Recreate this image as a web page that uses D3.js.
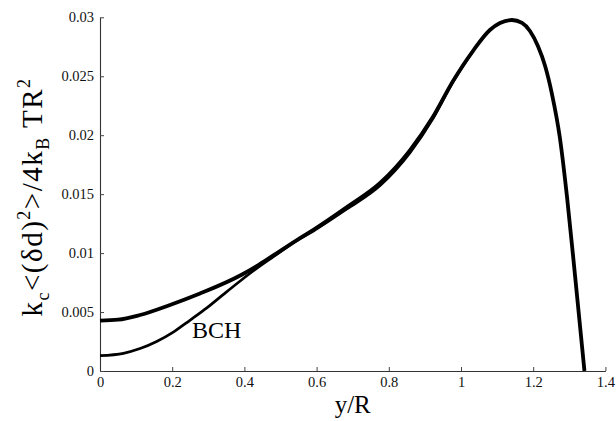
<!DOCTYPE html>
<html>
<head>
<meta charset="utf-8">
<script src="https://cdn.jsdelivr.net/npm/d3@7"></script>
<style>
  body { margin: 0; background: #fff; }
  svg { display: block; }
  svg text {
    font-family: "Liberation Serif", "Times New Roman", Tinos, "Nimbus Roman", "Nimbus Roman No9 L",
                 "DejaVu Serif", "Noto Serif", FreeSerif, Times, serif;
  }
</style>
</head>
<body>
<svg id="chart" width="616" height="421"></svg>
<script>
// Axis ticks
const xTicks = [0, 0.2, 0.4, 0.6, 0.8, 1, 1.2, 1.4];
const xTickLabels = ["0", "0.2", "0.4", "0.6", "0.8", "1", "1.2", "1.4"];
const yTicks = [0, 0.005, 0.01, 0.015, 0.02, 0.025, 0.03];
const yTickLabels = ["0", "0.005", "0.01", "0.015", "0.02", "0.025", "0.03"];

// Full fluctuation curve
const fullX = [0, 0.05, 0.111, 0.194, 0.277, 0.391, 0.434, 0.475, 0.554, 0.59, 0.684, 0.776,
               0.859, 0.922, 0.978, 1.033, 1.08, 1.108, 1.141, 1.169, 1.191, 1.213, 1.233,
               1.252, 1.274, 1.294, 1.316, 1.342];
const fullY = [0.00428, 0.00435, 0.00475, 0.0056, 0.00657, 0.00814, 0.0089, 0.0097, 0.01128, 0.01196,
               0.01391, 0.01595, 0.01874, 0.02154, 0.0246, 0.02714, 0.02892, 0.02951, 0.02977, 0.02952,
               0.02884, 0.02756, 0.02587, 0.02349, 0.01976, 0.01467, 0.00806, 0];

// BCH approximation
const bchX = [0, 0.065, 0.111, 0.157, 0.203, 0.249, 0.296, 0.342, 0.391, 0.434, 0.475,
              0.554, 0.59, 0.684, 0.776, 0.859, 0.922, 0.978, 1.033];
const bchY = [0.0013, 0.0015, 0.0019, 0.0025, 0.0033, 0.0043, 0.00535, 0.0065, 0.0077, 0.0087,
              0.00958, 0.0112, 0.01185, 0.01374, 0.01573, 0.01852, 0.02138, 0.02452, 0.02714];

const svg = d3.select("#chart");
const x = d3.scaleLinear().domain([0, 1.4]).range([100, 605.4]);
const y = d3.scaleLinear().domain([0, 0.03]).range([371, 17.3]);

// Axes: left and bottom only, ticks pointing inward
const xAxis = d3.axisBottom(x)
  .tickValues(xTicks)
  .tickFormat((d, i) => xTickLabels[i])
  .tickSizeInner(-4).tickSizeOuter(0).tickPadding(6);
const yAxis = d3.axisLeft(y)
  .tickValues(yTicks)
  .tickFormat((d, i) => yTickLabels[i])
  .tickSizeInner(-4).tickSizeOuter(0).tickPadding(6);

const gx = svg.append("g").attr("transform", `translate(0,${y(0)})`).call(xAxis);
const gy = svg.append("g").attr("transform", `translate(${x(0)},0)`).call(yAxis);
[gx, gy].forEach(g => {
  g.attr("font-family", null).attr("font-size", null);
  g.select(".domain").attr("stroke", "#333").attr("stroke-width", 1.1);
  g.selectAll(".tick line").attr("stroke", "#444").attr("stroke-width", 1);
  g.selectAll(".tick text").attr("fill", "#111").style("font-size", "14.5px");
});

// Curves
const line = d3.line().curve(d3.curveMonotoneX)
  .x(d => x(d[0])).y(d => y(d[1]));

svg.append("path")
  .datum(bchX.map((v, i) => [v, bchY[i]]))
  .attr("fill", "none").attr("stroke", "#000")
  .attr("stroke-width", 2.7).attr("stroke-linejoin", "round")
  .attr("d", line);

svg.append("path")
  .datum(fullX.map((v, i) => [v, fullY[i]]))
  .attr("fill", "none").attr("stroke", "#000")
  .attr("stroke-width", 3.8).attr("stroke-linejoin", "round")
  .attr("d", line);

// Curve annotation
svg.append("text")
  .attr("x", 192).attr("y", 338)
  .style("font-size", "24px")
  .attr("fill", "#000")
  .text("BCH");

// Axis titles
svg.append("text")
  .attr("x", x(0.7)).attr("y", 413)
  .attr("text-anchor", "middle")
  .style("font-size", "25px")
  .attr("fill", "#000")
  .text("y/R");

const yt = svg.append("text")
  .attr("transform", "translate(42,197) rotate(-90)")
  .attr("text-anchor", "middle")
  .style("font-size", "29px")
  .style("letter-spacing", "1.5px")
  .attr("fill", "#000");
const parts = [
  { t: "k", dy: 0 },
  { t: "c", dy: 7, small: true },
  { t: "<(δd)", dy: -7 },
  { t: "2", dy: -12, small: true },
  { t: ">/4k", dy: 12 },
  { t: "B", dy: 7, small: true },
  { t: " TR", dy: -7 },
  { t: "2", dy: -12, small: true }
];
parts.forEach(p => {
  yt.append("tspan")
    .attr("dy", p.dy)
    .style("font-size", p.small ? "18px" : "29px")
    .text(p.t);
});
</script>
</body>
</html>
